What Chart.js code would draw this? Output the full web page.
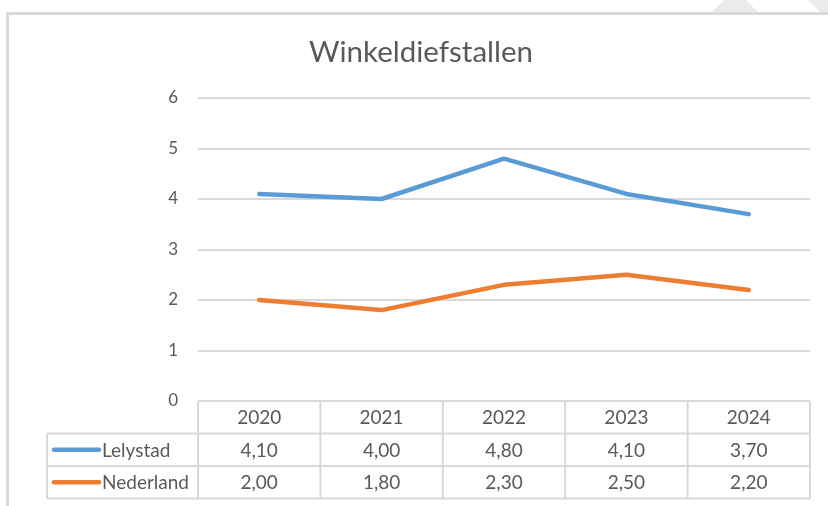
<!DOCTYPE html>
<html>
<head>
<meta charset="utf-8">
<script src="https://cdn.jsdelivr.net/npm/chart.js@4.4.1/dist/chart.umd.min.js"></script>
<style>
  html, body { margin: 0; padding: 0; background: #fff; }
  #chart { display: block; }
</style>
</head>
<body>
<canvas id="chart" width="828" height="506"></canvas>
<script>
// Data
const years = ['2020', '2021', '2022', '2023', '2024'];
const lelystad = [4.10, 4.00, 4.80, 4.10, 3.70];
const nederland = [2.00, 1.80, 2.30, 2.50, 2.20];
const seriesNames = ['Lelystad', 'Nederland'];
const seriesColours = ['#5B9BD5', '#ED7D31'];

const textGrey = '#595959';
const lineGrey = '#D9D9D9';
const fontName = 'Lato, "Noto Sans", sans-serif';

// outer frame + faint shapes at the top right
const frame = {
    id: 'frame',
    beforeDraw(chart) {
        const c = chart.ctx;
        c.save();
        c.fillStyle = '#EBEBEB';
        c.beginPath();
        c.moveTo(724, 0); c.lineTo(746, 0); c.lineTo(758, 12); c.lineTo(712, 12);
        c.closePath(); c.fill();
        c.beginPath();
        c.moveTo(808, 0); c.lineTo(828, 0); c.lineTo(828, 12); c.lineTo(820, 12);
        c.closePath(); c.fill();
        c.strokeStyle = '#DADADA';
        c.lineWidth = 3;
        c.beginPath();
        c.moveTo(7.5, 506); c.lineTo(7.5, 13.5); c.lineTo(828, 13.5);
        c.stroke();
        c.fillStyle = textGrey;
        c.font = '29.5px ' + fontName;
        c.textAlign = 'center';
        c.textBaseline = 'middle';
        c.fillText('Winkeldiefstallen', 421, 52);
        c.restore();
    }
};

// data table under the plot, columns follow the x scale
const dataTable = {
    id: 'dataTable',
    afterDraw(chart) {
        const c = chart.ctx;
        const x = chart.scales.x;
        const area = chart.chartArea;
        const half = (x.getPixelForValue(1) - x.getPixelForValue(0)) / 2;
        const rowH = 32.5;
        const top = area.bottom;
        const legendLeft = 47;
        const rows = [lelystad, nederland];

        c.save();
        c.strokeStyle = lineGrey;
        c.lineWidth = 2;
        c.beginPath();
        // horizontal lines
        c.moveTo(area.left, top); c.lineTo(area.right, top);
        for (let r = 1; r <= 3; r++) {
            c.moveTo(legendLeft, top + r * rowH);
            c.lineTo(area.right, top + r * rowH);
        }
        // vertical lines
        for (let i = 0; i < years.length; i++) {
            const l = x.getPixelForValue(i) - half;
            c.moveTo(l, top); c.lineTo(l, top + 3 * rowH);
        }
        c.moveTo(area.right, top); c.lineTo(area.right, top + 3 * rowH);
        c.moveTo(legendLeft, top + rowH); c.lineTo(legendLeft, top + 3 * rowH);
        c.stroke();

        c.fillStyle = textGrey;
        c.font = '19px ' + fontName;
        c.textBaseline = 'middle';
        c.textAlign = 'center';
        years.forEach((y, i) => {
            c.fillText(y, x.getPixelForValue(i), top + rowH / 2 + 1);
        });
        rows.forEach((vals, r) => {
            const cy = top + rowH * (r + 1.5) + 1;
            vals.forEach((v, i) => {
                c.fillText(v.toFixed(2).replace('.', ','), x.getPixelForValue(i), cy);
            });
        });

        c.textAlign = 'left';
        rows.forEach((vals, r) => {
            const cy = top + rowH * (r + 1.5);
            c.strokeStyle = seriesColours[r];
            c.lineWidth = 4.5;
            c.lineCap = 'round';
            c.beginPath();
            c.moveTo(54, cy); c.lineTo(99, cy);
            c.stroke();
            c.fillStyle = textGrey;
            c.fillText(seriesNames[r], 102, cy + 1);
        });
        c.restore();
    }
};

new Chart(document.getElementById('chart'), {
    type: 'line',
    data: {
        labels: years,
        datasets: [
            {
                label: seriesNames[0],
                data: lelystad,
                borderColor: seriesColours[0],
                backgroundColor: seriesColours[0],
                borderWidth: 4.5,
                pointRadius: 0,
                tension: 0,
                borderCapStyle: 'round',
                borderJoinStyle: 'round'
            },
            {
                label: seriesNames[1],
                data: nederland,
                borderColor: seriesColours[1],
                backgroundColor: seriesColours[1],
                borderWidth: 4.5,
                pointRadius: 0,
                tension: 0,
                borderCapStyle: 'round',
                borderJoinStyle: 'round'
            }
        ]
    },
    options: {
        responsive: false,
        animation: false,
        layout: { padding: { left: 138, right: 18, top: 98, bottom: 105 } },
        scales: {
            x: {
                display: false,
                offset: true
            },
            y: {
                min: 0,
                max: 6,
                afterFit: scale => { scale.width = 60; },
                border: { display: false },
                grid: { color: lineGrey, lineWidth: 2, drawTicks: false },
                ticks: {
                    stepSize: 1,
                    padding: 20,
                    color: textGrey,
                    font: { family: fontName, size: 17 }
                }
            }
        },
        plugins: {
            legend: { display: false },
            tooltip: { enabled: false },
            title: { display: false }
        }
    },
    plugins: [frame, dataTable]
});
</script>
</body>
</html>
